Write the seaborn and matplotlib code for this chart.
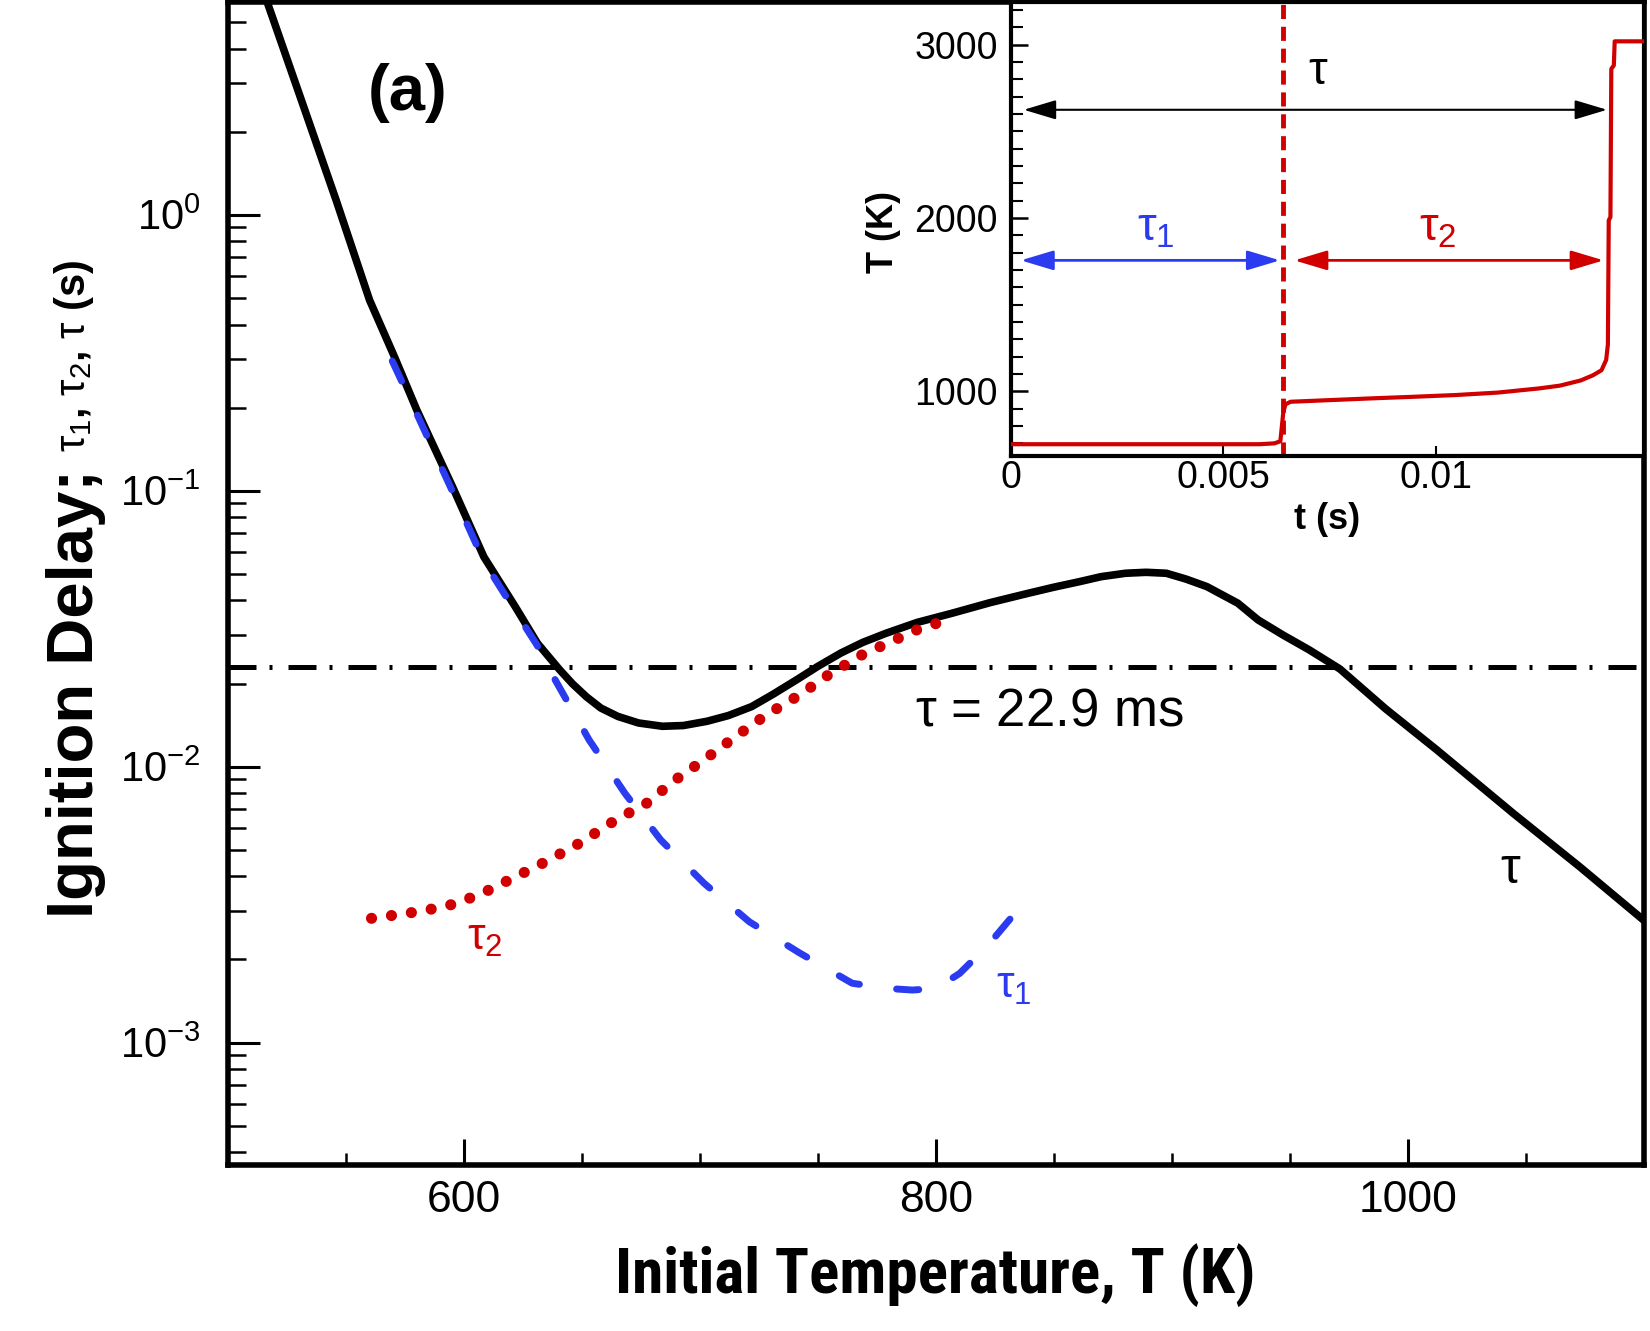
import matplotlib
matplotlib.use("Agg")
import matplotlib.pyplot as plt
from matplotlib import font_manager as fm
from matplotlib.ticker import (FixedLocator, FixedFormatter, LogLocator,
                               MultipleLocator, NullFormatter)
import seaborn as sns

# ---------------- main panel data ----------------
# total ignition delay tau (s) vs initial temperature (K)
T_tau = [513, 516.3, 531.1, 545.8, 560.0, 570.5, 580.0, 595.2, 608.4, 621.7,
         631.1, 640.6, 646, 651.9, 658, 665.2, 674, 684.1, 693, 703.0,
         712, 721.9, 731, 740.8, 750, 759.7, 769, 778.7, 792, 807.0,
         823, 839.2, 850, 860.8, 870, 880.3, 889, 897.6, 906, 914.8,
         927.9, 936.5, 947, 958.1, 971.1, 990.5, 1012.2, 1044.6, 1072.7, 1100.0]
tau = [7.2, 6.0, 2.60, 1.13, 0.49, 0.306, 0.196, 0.103, 0.0576, 0.038,
       0.028, 0.0224, 0.01995, 0.0179, 0.0163, 0.0152, 0.01439, 0.0140, 0.01409, 0.0146,
       0.01531, 0.0165, 0.0183, 0.0206, 0.0231, 0.0258, 0.0282, 0.0304, 0.0333, 0.036,
       0.0393, 0.0425, 0.0447, 0.0468, 0.0488, 0.0502, 0.0506, 0.0502, 0.0478, 0.0449,
       0.0391, 0.034, 0.0300, 0.0265, 0.0226, 0.0162, 0.0115, 0.00677, 0.00434, 0.00277]

# first-stage delay tau1
T_tau1 = [569.6, 580.0, 595.2, 608.4, 621.7, 631.0, 638.8, 653.0, 668.2, 683.4,
          701.7, 720.9, 742.3, 764.5, 780.0, 790.0, 800.0, 810.0, 822.0, 834.0]
tau1 = [0.295, 0.19, 0.099, 0.0555, 0.0366, 0.0275, 0.0205, 0.0125, 0.0080, 0.00542,
        0.00378, 0.00274, 0.00211, 0.00164, 0.00157, 0.00155, 0.00157, 0.00178, 0.00225, 0.00298]

# second-stage delay tau2
T_tau2 = [560.8, 576.0, 592.2, 606.4, 620.6, 634.8, 649.0, 663.2, 677.4, 689.5,
          701.7, 715.9, 728.1, 742.3, 754.4, 768.6, 791.9, 807.0]
tau2 = [0.00282, 0.00294, 0.00311, 0.00343, 0.00394, 0.00453, 0.00528, 0.00632, 0.00737, 0.00895,
        0.01058, 0.0130, 0.0154, 0.0182, 0.0215, 0.0254, 0.0313, 0.0345]

tau_ref = 0.0229          # horizontal reference line, 22.9 ms
x_major = [600, 800, 1000]
x_minor = [550, 650, 700, 750, 850, 900, 950, 1050]

# ---------------- inset data ----------------
t_inset = [0.0, 0.00585, 0.0062, 0.00634, 0.00641, 0.00646, 0.00658, 0.00755, 0.00853, 0.0095,
           0.01048, 0.01146, 0.01243, 0.01292, 0.01341, 0.0137, 0.0139, 0.01401, 0.01405, 0.01407,
           0.01411, 0.01413, 0.01419, 0.01421, 0.0149]
T_inset = [695, 695, 700, 712, 880, 925, 940, 950, 960, 969,
           979, 993, 1017, 1033, 1063, 1093, 1122, 1182, 1271, 1987,
           2006, 2861, 2881, 3020, 3020]
t_first_stage = 0.00641
inset_t_ticks = [0, 0.005, 0.01]
inset_t_labels = ["0", "0.005", "0.01"]
inset_T_ticks = [1000, 2000, 3000]
arrow_tau = (0.0003, 0.01403, 2625)
arrow_tau1 = (0.00023, 0.00633, 1756)
arrow_tau2 = (0.00667, 0.01395, 1756)

BLUE = "#2b3cf0"
RED = "#d00000"

# ---------------- style ----------------
sns.set_theme(style="white")
plt.rcParams["font.family"] = ["Liberation Sans", "DejaVu Sans"]
plt.rcParams["mathtext.fontset"] = "custom"
plt.rcParams["mathtext.rm"] = "Liberation Sans"
plt.rcParams["mathtext.it"] = "Liberation Sans"
plt.rcParams["mathtext.bf"] = "Liberation Sans:bold"
plt.rcParams["axes.unicode_minus"] = False
for k in ["text.color", "axes.labelcolor", "xtick.color", "ytick.color", "axes.edgecolor"]:
    plt.rcParams[k] = "black"

names = {f.name for f in fm.fontManager.ttflist}
xlab_family, xlab_size = "Liberation Sans", 39
for cand in ["Liberation Sans Narrow", "Arial Narrow", "Roboto Condensed",
             "Open Sans Condensed"]:
    if cand in names:
        xlab_family, xlab_size = cand, 45.5
        break

W, H = 1650, 1331
fig = plt.figure(figsize=(W / 100, H / 100), dpi=100)
fig.patch.set_facecolor("white")

# main axes
L, R, B, Tp = 228, 1644, 1165, 2
ax = fig.add_axes([L / W, 1 - B / H, (R - L) / W, (B - Tp) / H])
ax.set_facecolor("white")
ax.set_yscale("log")
ax.set_xlim(500, 1100)
ax.set_ylim(3.6e-4, 5.9)

sns.lineplot(x=T_tau, y=tau, ax=ax, color="black", lw=5.5, estimator=None,
             sort=False, zorder=3)
ax.get_lines()[-1].set_solid_joinstyle("round")
sns.lineplot(x=T_tau1, y=tau1, ax=ax, color=BLUE, lw=5, estimator=None,
             sort=False, zorder=4)
ln1 = ax.get_lines()[-1]
ln1.set_linestyle((0, (3.2, 5.4)))
ln1.set_dash_capstyle("round")
sns.lineplot(x=T_tau2, y=tau2, ax=ax, color=RED, lw=8, estimator=None,
             sort=False, zorder=5)
ln2 = ax.get_lines()[-1]
ln2.set_linestyle((0, (0.01, 1.8)))
ln2.set_dash_capstyle("round")

ax.axhline(tau_ref, color="black", lw=3.6, ls=(0, (5.6, 2.6, 0.6, 3.2)), zorder=2)

# ticks
ax.xaxis.set_major_locator(FixedLocator(x_major))
ax.xaxis.set_minor_locator(FixedLocator(x_minor))
ax.yaxis.set_major_locator(LogLocator(base=10, numticks=20))
ax.yaxis.set_minor_locator(LogLocator(base=10, subs=range(2, 10), numticks=20))
ax.yaxis.set_minor_formatter(NullFormatter())
ax.tick_params(which="both", direction="in", bottom=True, left=True, top=False,
               right=False, colors="black")
ax.tick_params(axis="y", which="major", length=23, width=2.2, pad=20, labelsize=30)
ax.tick_params(axis="y", which="minor", length=13, width=1.8)
ax.tick_params(axis="x", which="major", length=19, width=2.2, pad=11, labelsize=32)
ax.tick_params(axis="x", which="minor", length=9, width=1.8)
for s in ax.spines.values():
    s.set_linewidth(4)
    s.set_color("black")

# labels
ax.set_xlabel("Initial Temperature, T (K)", fontfamily=xlab_family,
              fontsize=xlab_size, fontweight="bold", color="black")
ax.xaxis.set_label_coords(0.4992, -0.110)
ax.xaxis.label.set_va("baseline")
ax.set_ylabel("Ignition Delay;", fontsize=47, fontweight="bold", color="black")
ax.yaxis.set_label_coords(-0.0951, 0.405)
ax.yaxis.label.set_va("baseline")
ax.text(-0.101, 0.6956, r"$\tau_{1}$, $\tau_{2}$, $\tau$ (s)", transform=ax.transAxes,
        rotation=90, rotation_mode="anchor", ha="center", va="baseline",
        fontsize=30, fontweight="bold", color="black")

ax.text(576.2, 2.77, "(a)", fontsize=47, fontweight="bold", ha="center", va="center",
        color="black")
ax.text(791, 0.01415, r"$\tau$ = 22.9 ms", fontsize=38, ha="left", va="baseline",
        color="black")
ax.text(1039, 0.00379, r"$\tau$", fontsize=36, ha="left", va="baseline", color="black")
ax.text(601.3, 0.00217, r"$\tau_2$", fontsize=32, color=RED, ha="left", va="baseline")
ax.text(825.4, 0.00145, r"$\tau_1$", fontsize=32, color=BLUE, ha="left", va="baseline")

# ---------------- inset ----------------
iL, iB = 1011, 456
ax2 = fig.add_axes([iL / W, 1 - iB / H, (R - iL) / W, (iB - Tp) / H])
ax2.set_facecolor("white")
ax2.set_xlim(0, 0.0149)
ax2.set_ylim(627, 3247)
sns.lineplot(x=t_inset, y=T_inset, ax=ax2, color=RED, lw=3, estimator=None,
             sort=False, zorder=3)
ax2.axvline(t_first_stage, color=RED, lw=3.5, ls=(0, (2.9, 1.6)), zorder=2)


def arrow(a, color, lw):
    x0, x1, y = a
    ax2.annotate("", xy=(x1, y), xytext=(x0, y),
                 arrowprops=dict(arrowstyle="<|-|>,head_length=1.0,head_width=0.3",
                                 color=color, lw=lw, shrinkA=0, shrinkB=0,
                                 mutation_scale=20))


arrow(arrow_tau, "black", 1.5)
arrow(arrow_tau1, BLUE, 2)
arrow(arrow_tau2, RED, 2)

ax2.text(0.00722, 2771, r"$\tau$", fontsize=34, ha="center", va="baseline", color="black")
ax2.text(0.0034, 1868, r"$\tau_1$", fontsize=34, color=BLUE, ha="center", va="baseline")
ax2.text(0.01004, 1868, r"$\tau_2$", fontsize=34, color=RED, ha="center", va="baseline")

ax2.xaxis.set_major_locator(FixedLocator(inset_t_ticks))
ax2.xaxis.set_major_formatter(FixedFormatter(inset_t_labels))
ax2.yaxis.set_major_locator(FixedLocator(inset_T_ticks))
ax2.yaxis.set_minor_locator(MultipleLocator(100))
ax2.tick_params(which="both", direction="in", bottom=True, left=True, top=False,
                right=False, colors="black")
ax2.tick_params(axis="y", which="major", length=12, width=1.8, pad=9.5, labelsize=27)
ax2.tick_params(axis="y", which="minor", length=8.5, width=1.5)
ax2.tick_params(axis="x", which="major", length=7, width=1.5, pad=3, labelsize=27)
for s in ax2.spines.values():
    s.set_linewidth(3)
    s.set_color("black")

ax2.set_xlabel("t (s)", fontsize=26, fontweight="bold", color="black")
ax2.xaxis.set_label_coords(0.499, -0.161)
ax2.xaxis.label.set_va("baseline")
ax2.set_ylabel("T (K)", fontsize=26, fontweight="bold", color="black")
ax2.yaxis.set_label_coords(-0.186, 0.493)
ax2.yaxis.label.set_va("baseline")

fig.savefig("out.png", dpi=100, facecolor="white")
